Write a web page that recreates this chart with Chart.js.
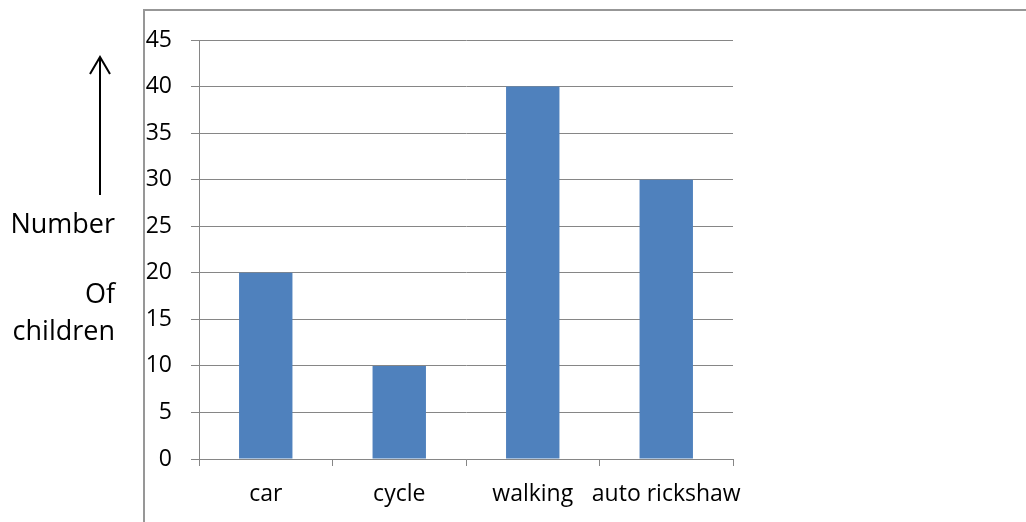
<!DOCTYPE html>
<html>
<head>
<meta charset="utf-8">
<script src="https://cdn.jsdelivr.net/npm/chart.js@4"></script>
<style>
  html, body { margin: 0; padding: 0; background: #fff; overflow: hidden; }
  #wrap { position: relative; width: 1026px; height: 522px; }
  #chart { position: absolute; left: 0; top: 0; }
  .side { position: absolute; left: 0; width: 115px; text-align: right;
          font-family: "Open Sans", sans-serif; font-size: 27px; line-height: 27px; color: #000; }
</style>
</head>
<body>
<div id="wrap">
  <canvas id="chart" width="1026" height="522"></canvas>
  <div class="side" style="top:209px">Number</div>
  <div class="side" style="top:279px">Of</div>
  <div class="side" style="top:316px">children</div>
</div>
<script>
// datos del gráfico
const categories = ['car', 'cycle', 'walking', 'auto rickshaw'];
const children = [20, 10, 40, 30];
const yTicks = [0, 5, 10, 15, 20, 25, 30, 35, 40, 45];

const gridGrey = '#868686';

// marco y flecha
const decor = {
    id: 'decor',
    beforeDraw(chart) {
        const ctx = chart.ctx;
        ctx.save();
        ctx.strokeStyle = '#979797';
        ctx.lineWidth = 2;
        ctx.beginPath();
        ctx.moveTo(144, 600);
        ctx.lineTo(144, 10);
        ctx.lineTo(1100, 10);
        ctx.stroke();

        ctx.strokeStyle = '#000';
        ctx.lineWidth = 2;
        ctx.beginPath();
        ctx.moveTo(100, 195);
        ctx.lineTo(100, 57);
        ctx.stroke();
        ctx.beginPath();
        ctx.moveTo(90, 74);
        ctx.lineTo(100, 57);
        ctx.lineTo(110, 74);
        ctx.stroke();
        ctx.restore();
    }
};

new Chart(document.getElementById('chart').getContext('2d'), {
    type: 'bar',
    data: {
        labels: categories,
        datasets: [{
            data: children,
            backgroundColor: '#4F81BD',
            borderWidth: 0,
            categoryPercentage: 1,
            barPercentage: 0.4
        }]
    },
    options: {
        responsive: false,
        animation: false,
        events: [],
        layout: { padding: { left: 0, right: 293, top: 40, bottom: 0 } },
        plugins: { legend: { display: false }, tooltip: { enabled: false } },
        scales: {
            x: {
                afterFit(scale) { scale.height = 63; },
                grid: { drawOnChartArea: false, drawTicks: true, tickLength: 7, color: gridGrey, offset: true },
                border: { display: true, color: gridGrey, width: 1 },
                ticks: { color: '#000', padding: 15, font: { family: 'Open Sans', size: 23 }, maxRotation: 0, autoSkip: false }
            },
            y: {
                min: 0,
                max: 45,
                afterFit(scale) { scale.width = 199; },
                afterBuildTicks(scale) { scale.ticks = yTicks.map(v => ({ value: v })); },
                grid: { color: gridGrey, tickLength: 8, lineWidth: 1 },
                border: { display: true, color: gridGrey, width: 1 },
                ticks: { color: '#000', padding: 19, font: { family: 'Open Sans', size: 23 } }
            }
        }
    },
    plugins: [decor]
});
</script>
</body>
</html>
